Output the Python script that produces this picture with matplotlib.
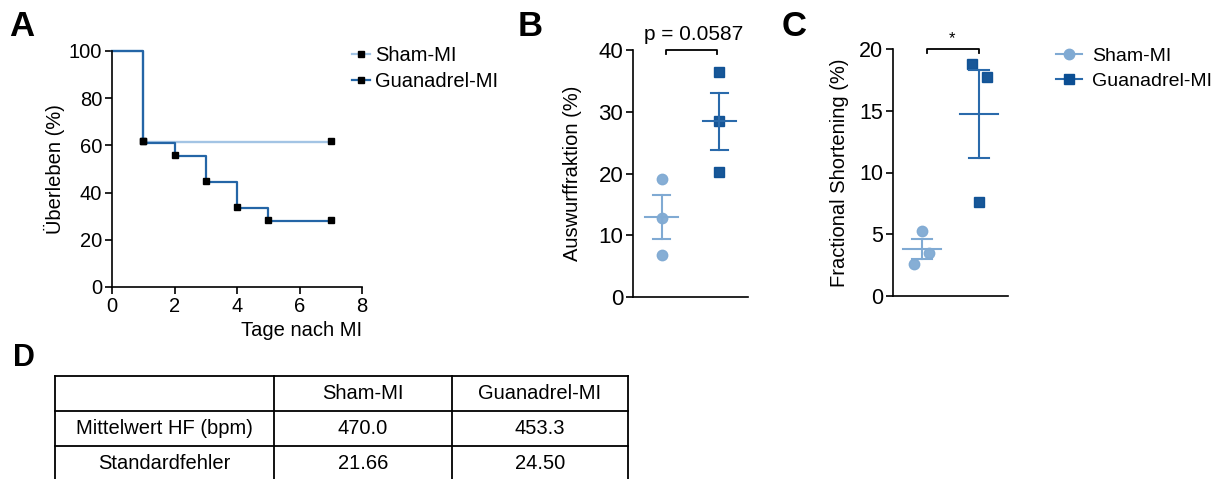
import numpy as np
import matplotlib
matplotlib.use('Agg')
import matplotlib.pyplot as plt
from matplotlib.lines import Line2D

plt.rcParams['font.family'] = ['Liberation Sans', 'DejaVu Sans']

# A: Kaplan-Meier Überleben
sham_days = [0, 1, 7]
sham_surv = [100, 61.5, 61.5]
guan_days = [0, 1, 2, 3, 4, 5, 7]
guan_surv = [100, 61.1, 55.6, 44.4, 33.3, 27.8, 27.8]
sham_cens_days = [1, 7]
sham_cens = [62, 62]
guan_cens_days = [1, 2, 3, 4, 5, 7]
guan_cens = [62, 56, 45, 34, 28.5, 28.5]

# B: Auswurffraktion (%)
ef_sham = [19.1, 12.8, 6.8]
ef_guan = [36.5, 28.5, 20.3]

# C: Fractional Shortening (%)
fs_sham = [5.3, 3.5, 2.6]
fs_guan = [18.8, 17.7, 7.6]

# D: Herzfrequenz
tab_cols = ['', 'Sham-MI', 'Guanadrel-MI']
tab_rows = [['Mittelwert HF (bpm)', '470.0', '453.3'],
            ['Standardfehler', '21.66', '24.50']]

groups = ['Sham-MI', 'Guanadrel-MI']

km_sham_c = '#a3c4e4'
km_guan_c = '#2465a6'
sham_c = '#80aad3'
guan_line_c = '#2a6aab'
guan_mark_c = '#0b4e93'

W, H = 1223, 479
fig = plt.figure(figsize=(W / 100, H / 100), dpi=100)


def px_axes(left, top, right, bottom):
    return fig.add_axes([left / W, 1 - bottom / H, (right - left) / W, (bottom - top) / H])


def style(ax):
    for s in ['top', 'right']:
        ax.spines[s].set_visible(False)
    for s in ['left', 'bottom']:
        ax.spines[s].set_linewidth(1.2)
    ax.tick_params(width=1.2, length=5, labelsize=14.5, pad=2)


# ---- A ----
axA = px_axes(112, 51, 362, 287)
style(axA)
axA.step(sham_days, sham_surv, where='post', color=km_sham_c, lw=1.7, clip_on=False)
axA.step(guan_days, guan_surv, where='post', color=km_guan_c, lw=1.6, clip_on=False)
axA.plot(sham_cens_days, sham_cens, 's', color='black', ms=4, ls='none', clip_on=False)
axA.plot(guan_cens_days, guan_cens, 's', color='black', ms=4, ls='none', clip_on=False)
axA.set_xlim(0, 8)
axA.set_ylim(0, 100)
axA.set_xticks([0, 2, 4, 6, 8])
axA.set_yticks([0, 20, 40, 60, 80, 100])
axA.set_ylabel('Überleben (%)', fontsize=14.5, labelpad=3)
axA.set_xlabel('Tage nach MI', fontsize=14.5, labelpad=1)
axA.xaxis.set_label_coords(1.0, -0.145)
axA.xaxis.label.set_ha('right')

legA = [Line2D([0], [0], color=km_sham_c, lw=1.6, marker='s', mfc='black', mec='black', ms=4),
        Line2D([0], [0], color=km_guan_c, lw=1.6, marker='s', mfc='black', mec='black', ms=4)]
fig.legend(legA, groups, loc='upper left', bbox_to_anchor=(352 / W, 1 - 46 / H),
           frameon=False, fontsize=14.5, handlelength=0.9, handletextpad=0.25,
           labelspacing=0.35, borderpad=0, borderaxespad=0)


def dot_plot(ax, sham, guan, offs_s, offs_g, half, cap):
    for x0, vals, offs, lc, mc, mk in [(1, sham, offs_s, sham_c, sham_c, 'o'),
                                       (2, guan, offs_g, guan_line_c, guan_mark_c, 's')]:
        v = np.array(vals)
        m = v.mean()
        sem = v.std(ddof=1) / np.sqrt(len(v))
        ax.plot(x0 + np.array(offs), v, mk, color=mc, ms=7.5 if mk == 'o' else 7,
                ls='none', alpha=0.95, zorder=2, clip_on=False)
        ax.plot([x0 - half, x0 + half], [m, m], color=lc, lw=1.5, zorder=3)
        ax.plot([x0, x0], [m - sem, m + sem], color=lc, lw=1.5, zorder=3)
        for e in [m - sem, m + sem]:
            ax.plot([x0 - cap, x0 + cap], [e, e], color=lc, lw=1.5, zorder=3)
    ax.set_xlim(0.5, 2.5)
    ax.set_xticks([])


# ---- B ----
axB = px_axes(633, 50, 748, 297)
style(axB)
axB.tick_params(labelsize=16)
dot_plot(axB, ef_sham, ef_guan, [0, 0, 0], [0, 0, 0], 0.29, 0.145)
axB.set_ylim(0, 40)
axB.set_yticks([0, 10, 20, 30, 40])
axB.set_ylabel('Auswurffraktion (%)', fontsize=14.5, labelpad=12)
axB.plot([1.07, 1.07, 1.96, 1.96], [39.3, 40, 40, 39.3], color='black', lw=1.3, clip_on=False)
axB.text(1.55, 40.9, 'p = 0.0587', ha='center', va='bottom', fontsize=15)

# ---- C ----
axC = px_axes(893, 49, 1008, 296)
style(axC)
axC.tick_params(labelsize=15.5)
dot_plot(axC, fs_sham, fs_guan, [0, 0.12, -0.14], [-0.13, 0.13, 0], 0.33, 0.17)
axC.set_ylim(0, 20)
axC.set_yticks([0, 5, 10, 15, 20])
axC.set_ylabel('Fractional Shortening (%)', fontsize=14.5, labelpad=7.5)
axC.plot([1.09, 1.09, 1.99, 1.99], [19.65, 20, 20, 19.65], color='black', lw=1.3, clip_on=False)
axC.text(1.52, 20.2, '*', ha='center', va='bottom', fontsize=12)

legC = [Line2D([0], [0], color=sham_c, lw=1.5, marker='o', ms=7.5),
        Line2D([0], [0], color=guan_line_c, lw=1.5, marker='s', mfc=guan_mark_c, mec=guan_mark_c, ms=7)]
fig.legend(legC, groups, loc='upper left', bbox_to_anchor=(1056 / W, 1 - 47 / H),
           frameon=False, fontsize=14, handlelength=1.35, handletextpad=0.5,
           labelspacing=0.4, borderpad=0, borderaxespad=0)

# ---- D: table ----
axD = fig.add_axes([0, 0, 1, 1])
axD.set_xlim(0, W)
axD.set_ylim(H, 0)
axD.axis('off')
col_edges = [55, 274, 452, 628]
row_edges = [376, 411, 446, 481]
for y in row_edges:
    axD.plot([col_edges[0], col_edges[-1]], [y, y], color='black', lw=1.3)
for x in col_edges:
    axD.plot([x, x], [row_edges[0], row_edges[-1]], color='black', lw=1.3)
cells = [tab_cols] + tab_rows
for r, row in enumerate(cells):
    yc = (row_edges[r] + row_edges[r + 1]) / 2
    for c, txt in enumerate(row):
        xc = (col_edges[c] + col_edges[c + 1]) / 2
        axD.text(xc, yc, txt, ha='center', va='center', fontsize=14.5)

# panel labels
for lab, x, y, fs in [('A', 22, 27, 25), ('B', 530, 27, 25), ('C', 794, 27, 25), ('D', 24, 358, 22)]:
    fig.text(x / W, 1 - y / H, lab, ha='center', va='center', fontsize=fs, fontweight='bold')

fig.savefig('out.png', dpi=100)
